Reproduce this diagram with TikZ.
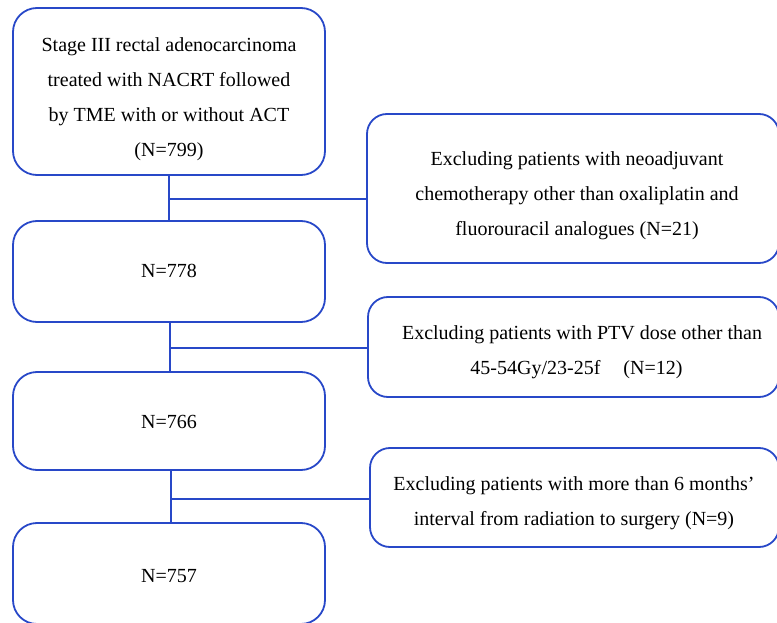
\documentclass[tikz,border=0pt]{standalone}
\usepackage{fontspec}
\setmainfont{Liberation Serif}
\definecolor{lineblue}{RGB}{40,72,200}
\begin{document}
\begin{tikzpicture}[x=1pt,y=-1pt,
  leftbox/.style={draw=lineblue,line width=1.8pt,rounded corners=24pt,minimum width=312pt,inner sep=0pt},
  rightbox/.style={draw=lineblue,line width=1.8pt,rounded corners=20pt,inner sep=0pt},
  lbl/.style={font=\fontsize{20}{35}\selectfont,align=center,inner sep=0pt},
  conn/.style={draw=lineblue,line width=1.8pt}]
\useasboundingbox (0,0) rectangle (777,623);
\begin{scope}
\clip (0,0) rectangle (777,623);
\node[leftbox,minimum height=167pt] (b1) at (169,91.5) {};
\node[leftbox,minimum height=101pt] (b2) at (169,271.5) {};
\node[leftbox,minimum height=98pt] (b3) at (169,421) {};
\node[leftbox,minimum height=101pt] (b4) at (169,573.5) {};
\node[rightbox,minimum width=412pt,minimum height=149pt] (ra) at (573,188.5) {};
\node[rightbox,minimum width=411pt,minimum height=100pt] (rb) at (573.5,347) {};
\node[rightbox,minimum width=409pt,minimum height=99pt] (rc) at (574.5,497.5) {};
\end{scope}
\node[lbl] (t1) at (169,99.5) {Stage III rectal adenocarcinoma\\treated with NACRT followed\\by TME with or without ACT\\(N=799)};
\node[lbl] (t2) at (169,271) {N=778};
\node[lbl] (t3) at (169,422) {N=766};
\node[lbl] (t4) at (169,576) {N=757};
\node[lbl] (ta) at (577,195.5) {Excluding patients with neoadjuvant\\chemotherapy other than oxaliplatin and\\fluorouracil analogues (N=21)};
\node[lbl] (tb) at (582,352.5) {Excluding patients with PTV dose other than\\45-54Gy/23-25f\hspace*{23pt}(N=12)\hspace*{11pt}};
\node[lbl] (tc) at (574,503) {Excluding patients with more than 6 months'\\interval from radiation to surgery (N=9)};
\coordinate (j1) at (169,199);
\coordinate (j2) at (170,348);
\coordinate (j3) at (171,499);
\draw[conn] (b1.south -| j1) -- (b2.north -| j1);
\draw[conn] (j1) -- (j1 -| ra.west);
\draw[conn] (b2.south -| j2) -- (b3.north -| j2);
\draw[conn] (j2) -- (j2 -| rb.west);
\draw[conn] (b3.south -| j3) -- (b4.north -| j3);
\draw[conn] (j3) -- (j3 -| rc.west);
\end{tikzpicture}
\end{document}
